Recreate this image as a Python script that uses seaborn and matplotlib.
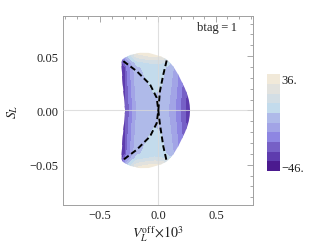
import numpy as np
import matplotlib
matplotlib.use("Agg")
import matplotlib.pyplot as plt
import seaborn as sns
from matplotlib.patches import Polygon
from matplotlib.colors import ListedColormap, BoundaryNorm
from matplotlib.ticker import MultipleLocator, FuncFormatter

# ---- data ----
# field profile along x (at S_L = 0)
field_x = [-0.34, -0.30, -0.284, -0.276, -0.247, -0.218, -0.184, -0.10, -0.03,
           0.03, 0.089, 0.147, 0.19, 0.233, 0.276, 0.30]
field_x_val = [-50, -40, -36, -29.6, -21.4, -13.2, -5.0, -1.0, 1.0,
               0.0, -5.0, -13.2, -21.4, -29.6, -37.8, -44]
# extra contribution growing with |S_L|
field_y = [0.0, 0.01, 0.02, 0.03, 0.04, 0.044, 0.047, 0.05, 0.054, 0.06]
field_y_val = [0, 1.5, 3, 4.5, 6.5, 12, 20, 28, 36, 42]

# outline of the allowed region (upper half, mirrored below)
edge_x = [0.277, 0.274, 0.266, 0.252, 0.232, 0.205, 0.175, 0.132, 0.10, 0.075,
          0.03, -0.011, -0.08, -0.155, -0.241, -0.295, -0.311, -0.314, -0.313,
          -0.304, -0.29, -0.284]
edge_y = [0.0, 0.005, 0.010, 0.015, 0.0205, 0.0265, 0.033, 0.0405, 0.0445, 0.047,
          0.0495, 0.0509, 0.053, 0.0531, 0.051, 0.048, 0.0462, 0.0435, 0.0393,
          0.0239, 0.0086, 0.0]

# dashed curves
curve_a_x = [-0.299, -0.184, -0.069, -0.011, 0.003, 0.017, 0.046, 0.075]
curve_a_y = [0.0454, 0.0362, 0.024, 0.0117, 0.0, -0.0129, -0.033, -0.0467]
curve_b_x = [0.075, 0.046, 0.017, 0.003, -0.011, -0.069, -0.184, -0.299]
curve_b_y = [0.046, 0.033, 0.0178, 0.0, -0.0117, -0.024, -0.0362, -0.0454]

vmin, vmax = -46, 36
band_colors = ["#4B1A8F", "#5E3CAE", "#7660C6", "#8E86E2", "#A2A4E6",
               "#AFBAE9", "#C3DBEC", "#D3DEE5", "#E2E2DE", "#F1E9D9"]

# ---- style ----
sns.set_theme(style="white")
plt.rcParams["font.family"] = ["Liberation Serif", "DejaVu Serif"]
plt.rcParams["mathtext.fontset"] = "stix"
plt.rcParams["axes.unicode_minus"] = True

fig = plt.figure(figsize=(3.15, 2.53), dpi=100)
ax = fig.add_axes([0.2, 0.186, 0.603, 0.747])

# grid field
fy = np.array(field_y)
fyv = np.array(field_y_val)
ys = np.concatenate([-fy[::-1], fy[1:]])
ysv = np.concatenate([fyv[::-1], fyv[1:]])
Z = np.add.outer(ysv, np.array(field_x_val))
Z = np.clip(Z, vmin + 0.01, vmax - 0.01)

levels = np.linspace(vmin, vmax, 11)
cmap = ListedColormap(band_colors)
norm = BoundaryNorm(levels, cmap.N)
cs = ax.contourf(field_x, ys, Z, levels=levels, cmap=cmap, norm=norm)

ex = np.array(edge_x)
ey = np.array(edge_y)
poly_x = np.concatenate([ex, ex[::-1][1:-1]])
poly_y = np.concatenate([ey, -ey[::-1][1:-1]])
clip = Polygon(np.column_stack([poly_x, poly_y]), closed=True,
               transform=ax.transData, facecolor="none", edgecolor="none")
ax.add_patch(clip)
cs.set_clip_path(clip)

# axes lines through origin
ax.axhline(0, color="#d8d8d8", lw=0.8, alpha=0.8, zorder=3)
ax.axvline(0, color="#d8d8d8", lw=0.8, alpha=0.8, zorder=3)

for cx, cy in [(curve_a_x, curve_a_y), (curve_b_x, curve_b_y)]:
    sns.lineplot(x=cx, y=cy, sort=False, estimator=None, ax=ax,
                 color="black", lw=1.4, dashes=False, zorder=4)
for ln in ax.get_lines()[2:]:
    ln.set_dashes((3, 1.6))

ax.set_xlim(-0.82, 0.82)
ax.set_ylim(-0.087, 0.087)

ax.xaxis.set_major_locator(MultipleLocator(0.5))
ax.xaxis.set_minor_locator(MultipleLocator(0.1))
ax.yaxis.set_major_locator(MultipleLocator(0.05))
ax.yaxis.set_minor_locator(MultipleLocator(0.01))
ax.xaxis.set_major_formatter(FuncFormatter(lambda v, p: f"{v:.1f}".replace("-", "\u2212")))
ax.yaxis.set_major_formatter(FuncFormatter(lambda v, p: f"{v:.2f}".replace("-", "\u2212")))
ax.tick_params(which="both", direction="in", top=True, right=True,
               color="#999999", width=0.6, labelsize=9, labelcolor="#222222",
               pad=3)
ax.tick_params(which="major", length=4)
ax.tick_params(which="minor", length=2)
for sp in ax.spines.values():
    sp.set_color("#a0a0a0")
    sp.set_linewidth(0.7)

ax.set_xlabel(r"$V_L^{\rm off}\!\times\!10^3$", fontsize=10, color="#222222", labelpad=2)
ax.set_ylabel(r"$S_L$", fontsize=10, color="#222222", labelpad=7)
ax.text(0.916, 0.94, "btag\u2009=\u20091", transform=ax.transAxes, ha="right",
        va="center", fontsize=9, color="#222222")

# colour bar
cax = fig.add_axes([0.848, 0.32, 0.041, 0.383])
cb = fig.colorbar(cs, cax=cax, ticks=[vmax - 4.1, vmin + 4.1])
cb.ax.set_yticklabels(["36.", "\u221246."])
cb.ax.minorticks_off()
cb.ax.tick_params(which="both", length=0, labelsize=9, labelcolor="#222222", pad=1)
cb.outline.set_visible(False)

fig.savefig("out.png", dpi=100)
